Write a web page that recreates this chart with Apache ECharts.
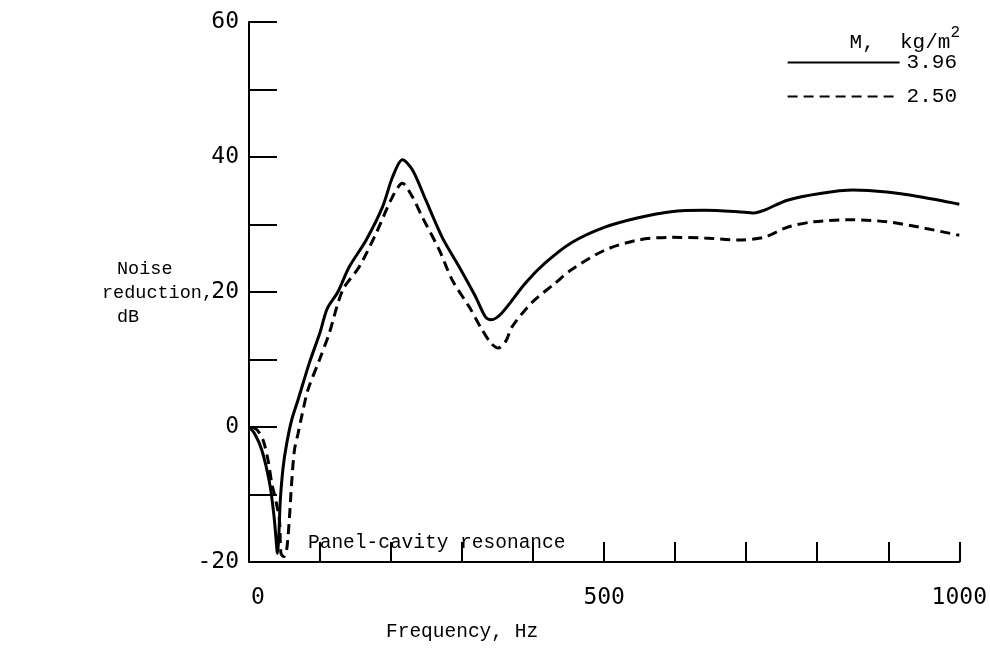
<!DOCTYPE html>
<html>
<head>
<meta charset="utf-8">
<script src="https://cdn.jsdelivr.net/npm/echarts@6/dist/echarts.min.js"></script>
<style>html,body{margin:0;padding:0;background:#fff;}#c{width:990px;height:661px;}</style>
</head>
<body>
<div id="c"></div>
<script>
const seriesNames = ['3.96', '2.50'];
const xTicks = [0, 500, 1000];
const yTicks = [-20, 0, 20, 40, 60];
const solid396 = [[0,0],[8,-1],[18,-3.4],[29,-8.3],[35,-13],[38,-16.5],[40,-18.7],[42,-16],[44,-11],[48,-6],[53,-2.5],[60,1],[69,4],[85,9.5],[100,14],[110,17.5],[125,20],[141,23.7],[165,27.7],[188,32.6],[202,37],[216,39.6],[230,38.1],[249,33.6],[272,28.1],[296,23.7],[319,19.3],[333,16.3],[341,15.9],[356,16.9],[389,21.3],[417,24.3],[454,27.3],[501,29.6],[548,31],[594,31.9],[641,32.1],[688,31.9],[711,31.7],[725,32.1],[758,33.6],[804,34.6],[851,35.1],[898,34.8],[944,34.1],[1000,33]];
const dashed250 = [[5,0],[12,-0.5],[20,-2],[27,-5],[32,-8.3],[38,-11],[43,-14],[45,-18.7],[49,-19.2],[53,-18.2],[57,-13.3],[60,-8.3],[64,-3.4],[69,-1],[74,1.5],[83,5.5],[99,9.9],[113,13.9],[132,20.3],[155,23.7],[179,28.7],[202,34.1],[216,36.1],[230,34.1],[244,31.1],[268,26.2],[286,21.8],[310,17.8],[326,14.8],[340,12.5],[351,11.7],[362,12.8],[370,14.8],[398,18.4],[431,21.3],[454,23.3],[501,26.2],[548,27.7],[594,28.1],[641,28],[688,27.7],[725,28.1],[758,29.6],[795,30.4],[851,30.7],[898,30.4],[944,29.6],[1000,28.4]];

const mono = 'Liberation Mono';
const chart = echarts.init(document.getElementById('c'), null, {renderer: 'canvas'});
chart.setOption({
  backgroundColor: '#fff',
  animation: false,
  grid: {left: 249, right: 25, top: 22, bottom: 99, containLabel: false},
  xAxis: {
    type: 'value', min: 0, max: 1000, interval: 100,
    axisLine: {show: true, onZero: false, lineStyle: {color: '#000', width: 2}},
    axisTick: {show: true, inside: true, length: 20, lineStyle: {color: '#000', width: 2}},
    splitLine: {show: false},
    axisLabel: {
      margin: 25, color: '#000', fontFamily: 'DejaVu Sans Mono', fontSize: 23,
      formatter: v => v === 0 ? '{z|0}' : (xTicks.includes(v) ? String(v) : ''),
      rich: {z: {fontFamily: 'DejaVu Sans Mono', fontSize: 23, color: '#000', padding: [0, 0, 0, 18]}}
    }
  },
  yAxis: {
    type: 'value', min: -20, max: 60, interval: 10,
    axisLine: {show: true, lineStyle: {color: '#000', width: 2}},
    axisTick: {show: true, inside: true, length: 28, lineStyle: {color: '#000', width: 2}},
    splitLine: {show: false},
    axisLabel: {
      margin: 10, color: '#000', fontFamily: 'DejaVu Sans Mono', fontSize: 23,
      formatter: v => yTicks.includes(v) ? String(v) : ''
    }
  },
  legend: {
    orient: 'vertical', right: 28, top: 47, itemGap: 13,
    itemWidth: 112, itemHeight: 14,
    itemStyle: {opacity: 0},
    textStyle: {fontFamily: mono, fontSize: 21, color: '#000', padding: [0,0,0,2]},
    data: seriesNames
  },
  series: [
    {name: seriesNames[0], type: 'line', data: solid396, smooth: 0.3, symbol: 'none',
     lineStyle: {color: '#000', width: 3}, itemStyle: {color: '#000'}},
    {name: seriesNames[1], type: 'line', data: dashed250, smooth: 0.3, symbol: 'none',
     lineStyle: {color: '#000', width: 3, type: [10, 6]}, itemStyle: {color: '#000'}}
  ],
  graphic: [
    {type: 'text', right: 30, top: 25, style: {
      text: '{a|M,  kg/m}{s|2}', fill: '#000',
      rich: {a: {fontFamily: mono, fontSize: 21, verticalAlign: 'bottom'}, s: {fontFamily: mono, fontSize: 16, verticalAlign: 'top', padding: [0,0,12,0]}}
    }},
    {type: 'text', left: 117, top: 260, style: {text: 'Noise', fontFamily: mono, fontSize: 18.5, fill: '#000'}},
    {type: 'text', left: 102, top: 284, style: {text: 'reduction,', fontFamily: mono, fontSize: 18.5, fill: '#000'}},
    {type: 'text', left: 117, top: 308, style: {text: 'dB', fontFamily: mono, fontSize: 18.5, fill: '#000'}},
    {type: 'text', left: 308, top: 533, style: {text: 'Panel-cavity resonance', fontFamily: mono, fontSize: 19.5, fill: '#000'}},
    {type: 'text', left: 386, top: 622, style: {text: 'Frequency, Hz', fontFamily: mono, fontSize: 19.5, fill: '#000'}}
  ]
});
</script>
</body>
</html>
